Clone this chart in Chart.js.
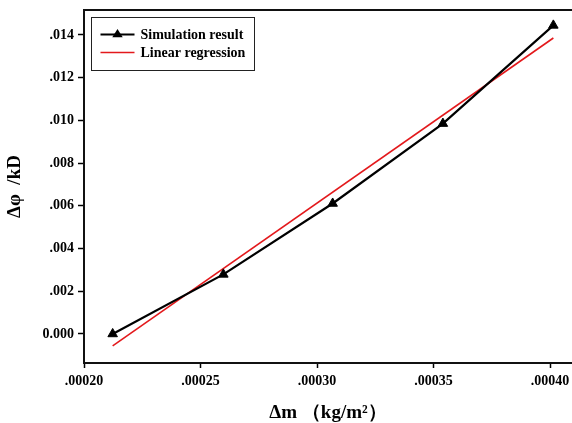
<!DOCTYPE html>
<html><head><meta charset="utf-8">
<script src="https://cdn.jsdelivr.net/npm/chart.js@4/dist/chart.umd.min.js"></script>
<style>html,body{margin:0;padding:0;background:#fff}#wrap{width:572px;height:423px}</style>
</head><body><div id="wrap"><canvas id="c" width="572" height="423"></canvas></div>
<script>
const massDelta = [0.0002123, 0.0002598, 0.0003067, 0.0003540, 0.0004014];
const phaseSim = [0.0000, 0.00279, 0.00611, 0.00985, 0.01445];
const regressionX = [0.0002123, 0.0004014];
const regressionY = [-0.00056, 0.01386];
const xTickValues = [0.00020, 0.00025, 0.00030, 0.00035, 0.00040];
const xTickLabels = ['.00020', '.00025', '.00030', '.00035', '.00040'];
const yTickValues = [0, 0.002, 0.004, 0.006, 0.008, 0.010, 0.012, 0.014];
const yTickLabels = ['0.000', '.002', '.004', '.006', '.008', '.010', '.012', '.014'];
const seriesNames = ['Simulation result', 'Linear regression'];
const xTitle = 'Δm （kg/m²）';
const yTitle = 'Δφ  /kD';

const FONT = "'Liberation Serif', 'Times New Roman', serif";

const frameAndLegend = {
  id: 'frameAndLegend',
  afterDraw(chart) {
    const ctx = chart.ctx, a = chart.chartArea;
    ctx.save();
    ctx.strokeStyle = '#111';
    ctx.lineWidth = 2;
    ctx.beginPath();
    ctx.moveTo(a.left - 1, a.top);
    ctx.lineTo(a.right, a.top);
    ctx.stroke();
    const bx = a.left + 7.5, by = a.top + 7.5, bw = 163, bh = 53;
    ctx.fillStyle = '#fff';
    ctx.fillRect(bx, by, bw, bh);
    ctx.lineWidth = 1;
    ctx.strokeStyle = '#222';
    ctx.strokeRect(bx, by, bw, bh);
    ctx.font = "bold 14px " + FONT;
    ctx.textBaseline = 'middle';
    chart.data.datasets.forEach((ds, i) => {
      const y = by + 17 + i * 18;
      ctx.strokeStyle = ds.borderColor;
      ctx.lineWidth = ds.borderWidth;
      ctx.beginPath();
      ctx.moveTo(bx + 9, y);
      ctx.lineTo(bx + 43, y);
      ctx.stroke();
      if (ds.pointRadius > 0) {
        const r = ds.pointRadius, cx = bx + 26;
        ctx.fillStyle = ds.pointBackgroundColor;
        ctx.beginPath();
        ctx.moveTo(cx, y - r);
        ctx.lineTo(cx + r * 0.95, y + r * 0.5);
        ctx.lineTo(cx - r * 0.95, y + r * 0.5);
        ctx.closePath();
        ctx.fill();
      }
      ctx.fillStyle = '#000';
      ctx.fillText(ds.label, bx + 49, y + 1);
    });
    ctx.restore();
  }
};

new Chart(document.getElementById('c'), {
  type: 'scatter',
  data: {
    datasets: [
      {
        label: seriesNames[0],
        data: massDelta.map((x, i) => ({ x, y: phaseSim[i] })),
        showLine: true,
        borderColor: '#000',
        borderWidth: 2.2,
        pointStyle: 'triangle',
        pointRadius: 5.5,
        pointBackgroundColor: '#000',
        pointBorderColor: '#000',
        pointBorderWidth: 1,
        tension: 0
      },
      {
        label: seriesNames[1],
        data: regressionX.map((x, i) => ({ x, y: regressionY[i] })),
        showLine: true,
        borderColor: '#e3191c',
        borderWidth: 1.6,
        pointRadius: 0,
        pointBackgroundColor: '#e3191c',
        tension: 0
      }
    ]
  },
  options: {
    responsive: false,
    devicePixelRatio: 1,
    animation: false,
    layout: { autoPadding: false, padding: { top: 10, right: 0, bottom: 0, left: 0 } },
    plugins: { legend: { display: false }, tooltip: { enabled: false } },
    scales: {
      x: {
        type: 'linear',
        min: 0.0002,
        max: 0.0004094,
        afterBuildTicks: s => { s.ticks = xTickValues.map(v => ({ value: v })); },
        afterFit: s => { s.height = 60; s.paddingLeft = 0; s.paddingRight = 0; },
        ticks: {
          callback: (v, i) => xTickLabels[i],
          color: '#000',
          font: { family: FONT, size: 14, weight: 'bold' },
          padding: 5,
          maxRotation: 0
        },
        grid: { display: true, drawOnChartArea: false, drawTicks: true, tickLength: 5, tickWidth: 1.5, color: '#000' },
        border: { display: true, color: '#111', width: 2 },
        title: {
          display: true, text: xTitle, color: '#000',
          font: { family: FONT, size: 19, weight: 'bold', lineHeight: 1 },
          padding: { top: 0, bottom: 0 }
        }
      },
      y: {
        type: 'linear',
        min: -0.00136,
        max: 0.01517,
        afterBuildTicks: s => { s.ticks = yTickValues.map(v => ({ value: v })); },
        afterFit: s => { s.width = 84; s.paddingTop = 0; s.paddingBottom = 0; },
        ticks: {
          callback: (v, i) => yTickLabels[i],
          color: '#000',
          font: { family: FONT, size: 14, weight: 'bold' },
          padding: 4
        },
        grid: { display: true, drawOnChartArea: false, drawTicks: true, tickLength: 6, tickWidth: 1.5, color: '#000' },
        border: { display: true, color: '#111', width: 2 },
        title: {
          display: true, text: yTitle, color: '#000',
          font: { family: FONT, size: 19, weight: 'bold', lineHeight: 1 },
          padding: { top: 6, bottom: 0 }
        }
      }
    }
  },
  plugins: [frameAndLegend]
});
</script></body></html>
